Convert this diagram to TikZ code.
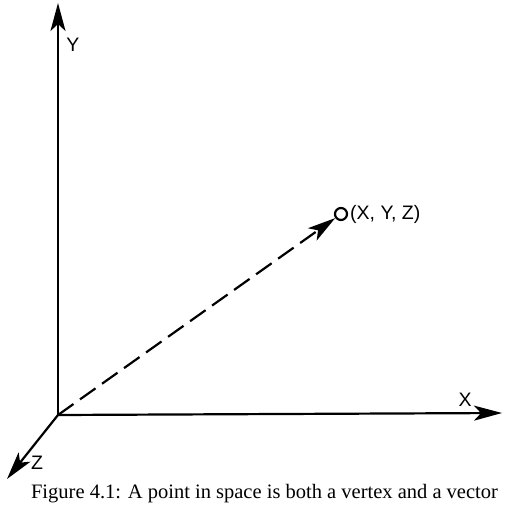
\documentclass[tikz,border=0pt]{standalone}
\usepackage{fontspec}
\setmainfont{Liberation Serif}
\newfontfamily\labelfont{Liberation Sans}
\usetikzlibrary{arrows.meta, positioning}

\begin{document}
\begin{tikzpicture}[x=1pt, y=-1pt, line width=2.2pt,
    axis/.style={-{Stealth[length=28pt, width=15pt, inset=7pt]}},
    lbl/.style={font=\labelfont\fontsize{19.5}{20}\selectfont, inner sep=0pt}]
  \useasboundingbox (0,0) rectangle (512,512);
  \coordinate (O) at (58,415);
  \coordinate (Xend) at (502,413);
  \coordinate (Yend) at (58,3);
  \coordinate (Zend) at (7,479);
  % axes
  \draw[axis] (O) -- (Xend);
  \draw[axis] (O) -- (Yend);
  \draw[axis] (O) -- (Zend);
  \node[lbl] (xl) at (465,400) {X};
  \node[lbl] (yl) at (73,45) {Y};
  \node[lbl] (zl) at (37,463) {Z};
  % the point
  \node[draw, circle, minimum size=12pt, inner sep=0pt] (P) at (341,214) {};
  \node[lbl, right=1pt of P] (pl) {(X, Y, Z)};
  \draw[axis, dash pattern=on 19pt off 8pt] (O) -- (P);
  % caption
  \node[anchor=west, inner sep=0pt, font=\fontsize{20.5}{22}\selectfont] (cap) at (30,494)
    {Figure 4.1: A point in space is both a vertex and a vector};
\end{tikzpicture}
\end{document}
